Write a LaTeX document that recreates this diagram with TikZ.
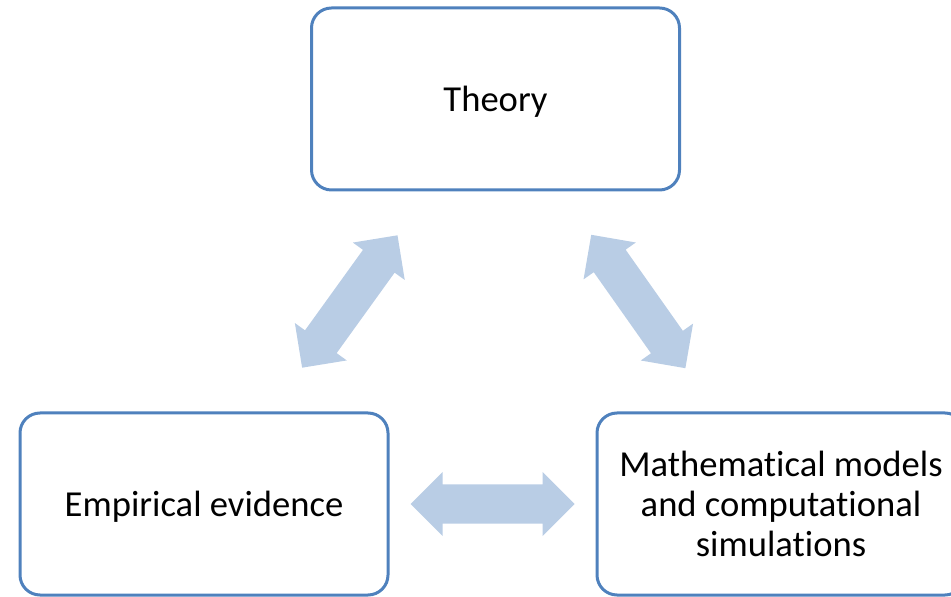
\documentclass[tikz,border=0pt]{standalone}
\usepackage{fontspec}
\setmainfont{Carlito}[Ligatures=NoCommon]
\usepackage{tikz}
\usetikzlibrary{positioning,calc}
\definecolor{boxblue}{HTML}{4F81BD}
\definecolor{arrowblue}{HTML}{B9CDE5}

% block arrow with a head at both ends, tips at #1 and #2
\newcommand{\dblarrow}[2]{%
  \coordinate (#1h) at ($(#1)!16pt!(#2)$);
  \coordinate (#2h) at ($(#2)!16pt!(#1)$);
  \fill[arrowblue] (#1) -- ($(#1h)!16pt!90:(#2)$) -- ($(#1h)!9.75pt!90:(#2)$)
    -- ($(#2h)!9.75pt!-90:(#1)$) -- ($(#2h)!16pt!-90:(#1)$) -- (#2)
    -- ($(#2h)!16pt!90:(#1)$) -- ($(#2h)!9.75pt!90:(#1)$)
    -- ($(#1h)!9.75pt!-90:(#2)$) -- ($(#1h)!16pt!-90:(#2)$) -- cycle;}

\begin{document}
\begin{tikzpicture}[x=0.5pt, y=-0.5pt,
      block/.style={draw=boxblue, line width=1.5pt, rounded corners=10pt,
                    align=center, minimum width=184pt, minimum height=91pt,
                    font=\fontsize{18.3}{20.2}\selectfont},
      oneline/.style={text depth=0pt},
      node distance=103pt]
    \useasboundingbox (0,0) rectangle (951,597);
    \clip (0,0) rectangle (951,597);
    \node[block, oneline] (theory) at (495.5,99) {Theory};
    \node[block, oneline] (emp) at (204,504) {Empirical evidence};
    \node[block, right=of emp] (model) {Mathematical models\\ and computational\\ simulations};
    % tips of the arrows, set back from the box borders
    \path (emp) -- (theory) coordinate[pos=0] (e1) coordinate[pos=1] (t1);
    \path (theory) -- (model) coordinate[pos=0] (t2) coordinate[pos=1] (m2);
    \path (emp) -- (model) coordinate[pos=0] (e3) coordinate[pos=1] (m3);
    \coordinate (ae) at ($(e1)!27pt!(t1)$);
    \coordinate (at) at ($(t1)!27pt!(e1)$);
    \coordinate (bt) at ($(t2)!26.5pt!(m2)$);
    \coordinate (bm) at ($(m2)!26.5pt!(t2)$);
    \coordinate (ce) at ($(e3)!10.5pt!(m3)$);
    \coordinate (cm) at ($(m3)!10.5pt!(e3)$);
    \dblarrow{ae}{at}
    \dblarrow{bt}{bm}
    \dblarrow{ce}{cm}
  \end{tikzpicture}
\end{document}
